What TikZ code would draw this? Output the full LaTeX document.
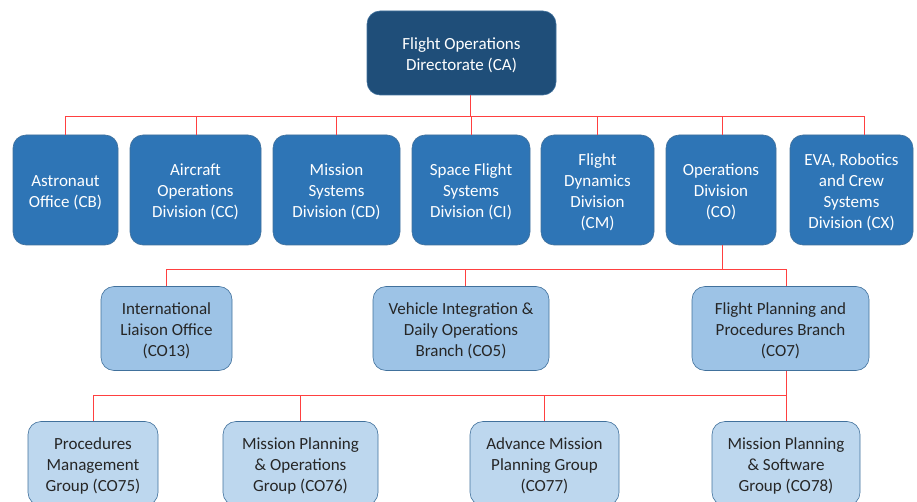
\documentclass[tikz,border=0pt]{standalone}
\usepackage{fontspec}
\setmainfont{Carlito}
\definecolor{cTop}{HTML}{1F4E79}
\definecolor{cOne}{HTML}{2E75B6}
\definecolor{cTwo}{HTML}{9DC3E6}
\definecolor{cThree}{HTML}{BDD7EE}
\definecolor{cEdge}{HTML}{41719C}
\definecolor{cLine}{HTML}{FF4040}
\newcommand\topstrut{\rule{0pt}{16pt}}
\begin{document}
\begin{tikzpicture}[x=1pt,y=-1pt,
  box/.style={draw=cEdge,line width=0.6pt,rounded corners=13pt,align=center,
    font=\fontsize{17}{21}\selectfont,inner sep=0pt},
  lvlzero/.style={box,fill=cTop,text=white},
  lvlone/.style={box,fill=cOne,text=white},
  lvltwo/.style={box,fill=cTwo,text=black!85},
  lvlthree/.style={box,fill=cThree,text=black!85},
  conn/.style={draw=cLine,line width=0.8pt}]
\useasboundingbox (0,0) rectangle (917,502);
\clip (0,0) rectangle (917,502);
% top
\node[lvlzero,minimum width=189pt,minimum height=84pt] (CA) at (461.5,53) {\topstrut Flight Operations\\Directorate (CA)};
% row 1
\node[lvlone,minimum width=105pt,minimum height=110pt] (CB) at (65.5,190) {\topstrut Astronaut\\Office (CB)};
\node[lvlone,minimum width=131pt,minimum height=110pt] (CC) at (195.5,190) {\topstrut Aircraft\\Operations\\Division (CC)};
\node[lvlone,minimum width=127pt,minimum height=110pt] (CD) at (336.5,190) {\topstrut Mission\\Systems\\Division (CD)};
\node[lvlone,minimum width=118pt,minimum height=110pt] (CI) at (471,190) {\topstrut Space Flight\\Systems\\Division (CI)};
\node[lvlone,minimum width=113pt,minimum height=110pt] (CM) at (597.5,190) {\topstrut Flight\\Dynamics\\Division\\(CM)};
\node[lvlone,minimum width=110pt,minimum height=110pt] (CO) at (721,190) {\topstrut Operations\\Division\\(CO)};
\node[lvlone,minimum width=123pt,minimum height=110pt] (CX) at (851.5,190) {\topstrut EVA, Robotics\\and Crew\\Systems\\Division (CX)};
% row 2
\node[lvltwo,minimum width=131pt,minimum height=84pt] (CO13) at (166.5,328.5) {\topstrut International\\Liaison Office\\(CO13)};
\node[lvltwo,minimum width=176pt,minimum height=84pt] (CO5) at (461,328.5) {\topstrut Vehicle Integration \&\\Daily Operations\\Branch (CO5)};
\node[lvltwo,minimum width=177pt,minimum height=84pt] (CO7) at (780.5,328.5) {\topstrut Flight Planning and\\Procedures Branch\\(CO7)};
% row 3
\node[lvlthree,minimum width=130pt,minimum height=84pt] (CO75) at (93,463.5) {\topstrut Procedures\\Management\\Group (CO75)};
\node[lvlthree,minimum width=155pt,minimum height=84pt] (CO76) at (300.5,463.5) {\topstrut Mission Planning\\\& Operations\\Group (CO76)};
\node[lvlthree,minimum width=149pt,minimum height=84pt] (CO77) at (544.5,463.5) {\topstrut Advance Mission\\Planning Group\\(CO77)};
\node[lvlthree,minimum width=148pt,minimum height=84pt] (CO78) at (786,463.5) {\topstrut Mission Planning\\\& Software\\Group (CO78)};
% buses
\coordinate (busA) at (0,116);
\coordinate (busB) at (0,269);
\coordinate (busC) at (0,395);
\coordinate (stA) at ([xshift=8.5pt]CA.south);
\coordinate (stB) at ([xshift=1pt]CO.south);
\coordinate (stC) at ([xshift=5.5pt]CO7.south);
\draw[conn] (stA) -- (stA|-busA) -| (CB.north);
\draw[conn] (stA) -- (stA|-busA) -| ([xshift=1pt]CC.north);
\draw[conn] (stA) -- (stA|-busA) -| (CD.north);
\draw[conn] (stA) -- (stA|-busA) -| (CI.north);
\draw[conn] (stA) -- (stA|-busA) -| (CM.north);
\draw[conn] (stA) -- (stA|-busA) -| ([xshift=1pt]CO.north);
\draw[conn] (stA) -- (stA|-busA) -| ([xshift=12.5pt]CX.north);
\draw[conn] (stB) -- (stB|-busB) -| (CO13.north);
\draw[conn] (stB) -- (stB|-busB) -| ([xshift=4pt]CO5.north);
\draw[conn] (stB) -- (stB|-busB) -| ([xshift=5.5pt]CO7.north);
\foreach \c in {CO75,CO76,CO77,CO78}
  \draw[conn] (stC) -- (stC|-busC) -| (\c.north);
\end{tikzpicture}
\end{document}
